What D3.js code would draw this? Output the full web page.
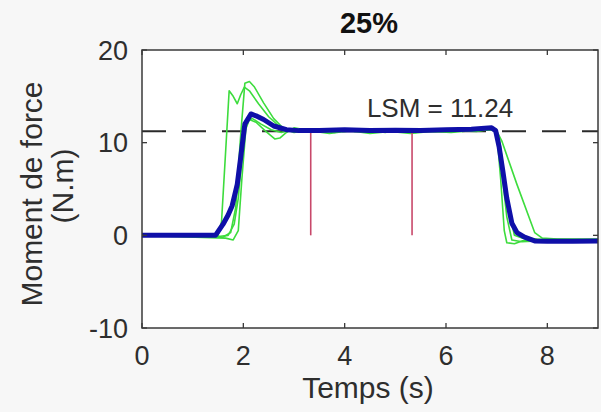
<!DOCTYPE html>
<html>
<head>
<meta charset="utf-8">
<script src="https://cdnjs.cloudflare.com/ajax/libs/d3/7.8.5/d3.min.js"></script>
<style>
  html, body { margin: 0; padding: 0; background: #f7f7f7; }
  svg { display: block; font-family: "Liberation Sans", Arial, Helvetica, sans-serif; }
</style>
</head>
<body>
<svg id="chart" width="601" height="412"></svg>
<script>
// ---- data ----
const title = "25%";
const xLabel = "Temps (s)";
const yLabelLines = ["Moment de force", "(N.m)"];
const xTicks = [0, 2, 4, 6, 8];
const yTicks = [-10, 0, 10, 20];
const xDomain = [0, 9];
const yDomain = [-10, 20];
const lsmValue = 11.24;
const lsmLabel = "LSM = 11.24";
const windowTimes = [3.33, 5.33];

// individual trials (time s, moment N.m)
const trial1 = [[0,0.1],[1.5,0],[1.57,1.5],[1.65,9],[1.72,15.6],[1.8,15.0],[1.88,14.2],[1.95,15.2],[2.02,16.0],[2.12,15.6],[2.3,14.2],[2.5,12.8],[2.7,11.8],[2.9,11.4],[3.2,11.2],[3.6,11.5],[4.0,11.2],[4.4,11.4],[4.8,11.1],[5.2,11.5],[5.6,11.3],[6.0,11.2],[6.4,11.5],[6.8,11.4],[6.98,11.5],[7.1,10.2],[7.4,5.5],[7.75,0.3],[7.9,-0.3],[8.2,-0.4],[9,-0.4]];
const trial2 = [[0,0],[1.6,-0.2],[1.75,0.3],[1.85,3],[1.95,11],[2.03,16.4],[2.12,16.6],[2.22,16.0],[2.4,14.3],[2.6,12.6],[2.8,11.5],[3.0,11.1],[3.4,11.4],[3.8,11.1],[4.2,11.5],[4.6,11.2],[5.0,11.4],[5.4,11.1],[5.8,11.4],[6.2,11.3],[6.6,11.2],[6.9,11.5],[7.0,11.2],[7.08,6],[7.15,0.5],[7.2,-0.8],[7.35,-0.9],[7.5,-0.6],[7.8,-0.5],[9,-0.5]];
const trial3 = [[0,0],[1.65,-0.3],[1.8,-0.5],[1.9,0.5],[1.97,6],[2.05,11.5],[2.12,12.5],[2.25,12.2],[2.45,11.2],[2.62,10.4],[2.72,10.5],[2.85,11.1],[3.0,11.6],[3.3,11.3],[3.7,11.0],[4.1,11.3],[4.5,11.0],[4.9,11.2],[5.3,11.0],[5.7,11.2],[6.1,11.1],[6.5,11.3],[6.9,11.4],[7.0,11.0],[7.1,7],[7.2,2],[7.3,-0.5],[7.5,-0.7],[7.8,-0.6],[9,-0.6]];
const trial4 = [[0,0],[1.55,-0.1],[1.7,0],[1.82,1.2],[1.9,4],[1.98,9],[2.06,12.3],[2.18,12.6],[2.35,12.0],[2.55,11.4],[2.75,11.1],[3.0,11.5],[3.4,11.2],[3.8,11.4],[4.2,11.2],[4.6,11.5],[5.0,11.2],[5.4,11.4],[5.8,11.2],[6.2,11.5],[6.6,11.3],[6.95,11.4],[7.05,10.5],[7.15,6.5],[7.25,2.5],[7.35,0],[7.5,-0.3],[7.8,-0.4],[9,-0.5]];
const trials = [trial1, trial2, trial3, trial4];

// mean curve
const meanCurve = [[0,0],[1.45,0],[1.6,1.2],[1.7,2.2],[1.78,3.2],[1.88,5.5],[1.95,8.5],[2.03,12.0],[2.15,13.1],[2.25,12.9],[2.4,12.5],[2.6,11.8],[2.85,11.4],[3.1,11.3],[3.5,11.3],[4.0,11.4],[4.5,11.3],[5.0,11.35],[5.5,11.3],[6.0,11.4],[6.5,11.45],[6.9,11.6],[6.98,11.3],[7.05,9.5],[7.12,7.0],[7.2,4.0],[7.3,1.3],[7.4,0.3],[7.55,-0.2],[7.75,-0.6],[8.0,-0.65],[8.5,-0.65],[9,-0.6]];

// ---- layout ----
const svg = d3.select("#chart");
const L = 142, R = 598, T = 50, B = 328;
const x = d3.scaleLinear().domain(xDomain).range([L, R]);
const y = d3.scaleLinear().domain(yDomain).range([B, T]);
const textCol = "#2e2e2e";
const axisCol = "#3a3a3a";

svg.append("rect").attr("x", L).attr("y", T).attr("width", R - L).attr("height", B - T).attr("fill", "#fff");

svg.append("clipPath").attr("id", "clip")
  .append("rect").attr("x", L).attr("y", T).attr("width", R - L).attr("height", B - T);

const plot = svg.append("g").attr("clip-path", "url(#clip)");

// LSM dashed line
plot.append("line")
  .attr("x1", x(xDomain[0])).attr("x2", x(xDomain[1]))
  .attr("y1", y(lsmValue)).attr("y2", y(lsmValue))
  .attr("stroke", "#2a2a2a").attr("stroke-width", 2).attr("stroke-dasharray", "24,16");

const line = d3.line().x(d => x(d[0])).y(d => y(d[1]));

plot.selectAll(".trial").data(trials).enter().append("path")
  .attr("class", "trial")
  .attr("d", line).attr("fill", "none")
  .attr("stroke", "#3ddc3d").attr("stroke-width", 1.6).attr("stroke-linejoin", "round");

// analysis window markers
plot.selectAll(".win").data(windowTimes).enter().append("line")
  .attr("x1", d => x(d)).attr("x2", d => x(d))
  .attr("y1", y(0)).attr("y2", y(lsmValue))
  .attr("stroke", "#c8486a").attr("stroke-width", 1.6);

plot.append("path").datum(meanCurve)
  .attr("d", line).attr("fill", "none")
  .attr("stroke", "#0f0fa8").attr("stroke-width", 5).attr("stroke-linejoin", "round");

// axes box with inside ticks
const tickLen = 5;
const axG = svg.append("g");
axG.append("rect").attr("x", L).attr("y", T).attr("width", R - L).attr("height", B - T)
  .attr("fill", "none").attr("stroke", axisCol).attr("stroke-width", 1.5);

xTicks.forEach(t => {
  axG.append("line").attr("x1", x(t)).attr("x2", x(t)).attr("y1", B).attr("y2", B - tickLen)
    .attr("stroke", axisCol).attr("stroke-width", 1.3);
  axG.append("line").attr("x1", x(t)).attr("x2", x(t)).attr("y1", T).attr("y2", T + tickLen)
    .attr("stroke", axisCol).attr("stroke-width", 1.3);
  axG.append("text").attr("x", x(t)).attr("y", 365)
    .attr("text-anchor", "middle").attr("font-size", 27).attr("fill", textCol).text(t);
});
yTicks.forEach(v => {
  axG.append("line").attr("x1", L).attr("x2", L + tickLen).attr("y1", y(v)).attr("y2", y(v))
    .attr("stroke", axisCol).attr("stroke-width", 1.3);
  axG.append("line").attr("x1", R).attr("x2", R - tickLen).attr("y1", y(v)).attr("y2", y(v))
    .attr("stroke", axisCol).attr("stroke-width", 1.3);
  axG.append("text").attr("x", 128).attr("y", y(v)).attr("dy", "0.36em")
    .attr("text-anchor", "end").attr("font-size", 27).attr("fill", textCol).text(v);
});

// LSM label
svg.append("text").attr("x", 440).attr("y", 117).attr("text-anchor", "middle")
  .attr("font-size", 26).attr("fill", textCol).text(lsmLabel);

// title
svg.append("text").attr("x", (L + R) / 2 - 1).attr("y", 33).attr("text-anchor", "middle")
  .attr("font-size", 29).attr("font-weight", "bold").attr("fill", "#111").text(title);

// x label
svg.append("text").attr("x", 368).attr("y", 398).attr("text-anchor", "middle")
  .attr("font-size", 30).attr("fill", textCol).text(xLabel);

// y label (two lines, rotated)
const yc = (T + B) / 2;
svg.append("text").attr("transform", `translate(42,${yc + 5}) rotate(-90)`)
  .attr("text-anchor", "middle").attr("font-size", 30).attr("fill", textCol).text(yLabelLines[0]);
svg.append("text").attr("transform", `translate(73,${yc - 3}) rotate(-90)`)
  .attr("text-anchor", "middle").attr("font-size", 30).attr("fill", textCol).text(yLabelLines[1]);
</script>
</body>
</html>
